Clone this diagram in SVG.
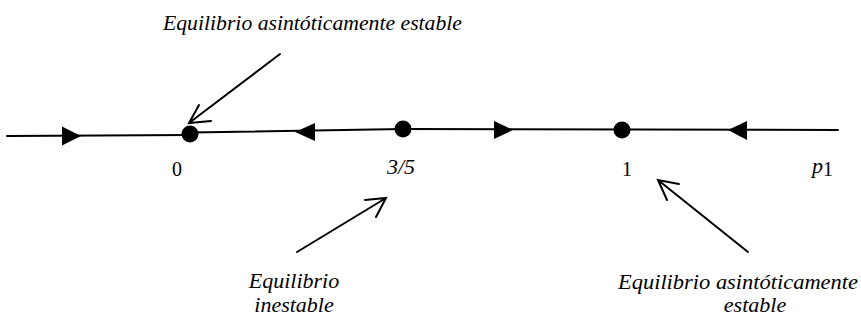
<svg xmlns="http://www.w3.org/2000/svg" width="861" height="320" viewBox="0 0 861 320">
<style>
.ln{stroke:#000;stroke-width:2;fill:none;stroke-linecap:round}
.lbl{font-family:'Liberation Serif','DejaVu Serif',serif;font-style:italic;font-size:22px;fill:#000}
.num{font-family:'Liberation Serif','DejaVu Serif',serif;font-size:20px;fill:#000}
.tri{fill:#000}
.dot{fill:#000}
</style>
<rect width="861" height="320" fill="#fff"/>
<g id="connectors">
<polyline class="ln" points="7,136 190,135"/>
<polyline class="ln" points="190,132.5 403,129 838,130"/>
<polygon class="tri" points="81,136 62,126.5 62,145.5"/>
<polygon class="tri" points="295,132 315,123 315,141"/>
<polygon class="tri" points="513,130 494,121 494,139"/>
<polygon class="tri" points="728,130 747,121 747,140"/>
<path class="ln" d="M280,54 L189,123 M199,105 L189,123 L211,121"/>
<path class="ln" d="M297,252 L386,198 M365,200 L386,198 L376,217"/>
<path class="ln" d="M748,252 L658,180 M679,184 L658,180 L667,200"/>
</g>
<g id="node-0">
<circle class="dot" cx="190" cy="134" r="8.5"/>
<text class="num" x="177" y="176" text-anchor="middle">0</text>
</g>
<g id="node-3-5">
<circle class="dot" cx="403" cy="129" r="8.5"/>
<text class="lbl" x="401" y="174" text-anchor="middle">3/5</text>
</g>
<g id="node-1">
<circle class="dot" cx="622" cy="130" r="8.5"/>
<text class="num" x="627" y="176" text-anchor="middle">1</text>
</g>
<g id="axis-label">
<text x="812" y="173"><tspan class="lbl" font-size="26px">p</tspan><tspan class="num" font-size="14px" dy="3">1</tspan></text>
</g>
<g id="label-top">
<text class="lbl" x="163" y="30" textLength="299" lengthAdjust="spacingAndGlyphs">Equilibrio asintóticamente estable</text>
</g>
<g id="label-unstable">
<text class="lbl" x="294" y="288" text-anchor="middle">Equilibrio</text>
<text class="lbl" x="294" y="312" text-anchor="middle">inestable</text>
</g>
<g id="label-stable-right">
<text class="lbl" x="618" y="289" textLength="240" lengthAdjust="spacingAndGlyphs">Equilibrio asintóticamente</text>
<text class="lbl" x="755" y="312" text-anchor="middle">estable</text>
</g>
</svg>
